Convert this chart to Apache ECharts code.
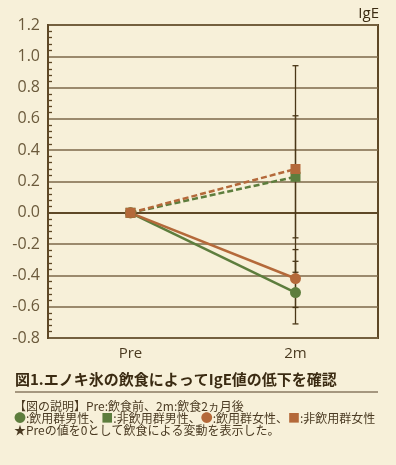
<!DOCTYPE html>
<html><head><meta charset="utf-8">
<script src="https://cdn.jsdelivr.net/npm/echarts@6/dist/echarts.min.js"></script>
<style>html,body{margin:0;padding:0;background:#f7f0d9;}#c{width:396px;height:465px;}</style>
</head><body><div id="c"></div>
<script>
const categories = ['Pre', '2m'];
const greenCircle = [0, -0.51];   // 飲用群男性
const brownCircle = [0, -0.42];   // 飲用群女性
const greenSquare = [0, 0.23];    // 非飲用群男性
const brownSquare = [0, 0.28];    // 非飲用群女性
const greenCircleErr = [0, 0.20];
const brownCircleErr = [0, 0.185];
const greenSquareErr = [0, 0.39];
const brownSquareErr = [0, 0.66];
const yMin = -0.8, yMax = 1.2, yStep = 0.2;

const GREEN = '#5d7d3d', BROWN = '#b4693a', DARK = '#4a3718';

function errSeries(vals, errs) {
  const d = [];
  vals.forEach((v, i) => { if (errs[i] > 0) d.push([i, v - errs[i], v + errs[i]]); });
  return {
    type: 'custom', z: 1, silent: true,
    renderItem: function (params, api) {
      const lo = api.coord([api.value(0), api.value(1)]);
      const hi = api.coord([api.value(0), api.value(2)]);
      const w = 3;
      const st = { stroke: DARK, lineWidth: 1.3 };
      return { type: 'group', children: [
        { type: 'line', shape: { x1: lo[0], y1: lo[1], x2: hi[0], y2: hi[1] }, style: st },
        { type: 'line', shape: { x1: lo[0] - w, y1: lo[1], x2: lo[0] + w, y2: lo[1] }, style: st },
        { type: 'line', shape: { x1: hi[0] - w, y1: hi[1], x2: hi[0] + w, y2: hi[1] }, style: st }
      ]};
    },
    encode: { x: 0, y: [1, 2] },
    data: d
  };
}

function lineSeries(vals, color, symbol, dashed) {
  return {
    type: 'line', data: vals, symbol: symbol, symbolSize: symbol === 'circle' ? 11 : 10,
    z: 3,
    itemStyle: { color: color },
    lineStyle: { color: color, width: 2.5, type: dashed ? [6, 3] : 'solid' }
  };
}

const chart = echarts.init(document.getElementById('c'), null, { renderer: 'canvas' });
chart.setOption({
  backgroundColor: '#f7f0d9',
  animation: false,
  grid: { left: 48, right: 18, top: 25, bottom: 127, show: true, borderColor: '#5e4826', borderWidth: 2, backgroundColor: 'transparent' },
  xAxis: {
    type: 'category', data: categories, boundaryGap: true,
    axisLine: { lineStyle: { color: '#5e4826', width: 2 } },
    axisTick: { show: false },
    axisLabel: { color: '#4a3a20', fontSize: 15, fontFamily: 'Open Sans', margin: 8 },
    splitLine: { show: false }
  },
  yAxis: {
    type: 'value', min: yMin, max: yMax, interval: yStep,
    axisLine: { show: true, lineStyle: { color: '#5e4826', width: 2 } },
    axisTick: { show: false, inside: true },
    minorTick: { show: true, splitNumber: 5, length: 4, lineStyle: { color: '#5e4826', width: 1.3 } },
    axisLabel: { inside: false, color: '#6b5a3c', fontSize: 16, fontFamily: 'Open Sans', margin: 8,
      formatter: v => v.toFixed(1) },
    splitLine: { show: true, lineStyle: { color: '#7c6848', width: 1.5 } }
  },
  series: [
    errSeries(greenCircle, greenCircleErr),
    errSeries(brownCircle, brownCircleErr),
    errSeries(greenSquare, greenSquareErr),
    errSeries(brownSquare, brownSquareErr),
    lineSeries(greenCircle, GREEN, 'circle', false),
    lineSeries(brownCircle, BROWN, 'circle', false),
    lineSeries(greenSquare, GREEN, 'rect', true),
    lineSeries(brownSquare, BROWN, 'rect', true)
  ],
  graphic: [
    { type: 'text', right: 17, top: 6, style: { text: 'IgE', fill: '#3b2b12', font: '15px "Open Sans"' } },
    { type: 'text', left: 15, top: 372, style: { text: '図1.エノキ氷の飲食によってIgE値の低下を確認', fill: '#3b2b12', font: 'bold 15px "Noto Sans CJK JP"' } },
    { type: 'line', shape: { x1: 15, y1: 392, x2: 378, y2: 392 }, style: { stroke: '#8a7a60', lineWidth: 1.5 } },
    { type: 'text', left: 14, top: 400, style: { text: '【図の説明】Pre:飲食前、2m:飲食2ヵ月後', fill: '#4a3a22', font: '12px "Noto Sans CJK JP"' } },
    { type: 'text', left: 14, top: 412, style: {
      text: '{g|●}:飲用群男性、{g|■}:非飲用群男性、{b|●}:飲用群女性、{b|■}:非飲用群女性',
      fill: '#4a3a22', font: '12px "Noto Sans CJK JP"',
      rich: { g: { fill: GREEN, font: '12px "Noto Sans CJK JP"' }, b: { fill: BROWN, font: '12px "Noto Sans CJK JP"' } }
    } },
    { type: 'text', left: 14, top: 424, style: { text: '★Preの値を0として飲食による変動を表示した。', fill: '#4a3a22', font: '12px "Noto Sans CJK JP"' } }
  ]
});
</script></body></html>
